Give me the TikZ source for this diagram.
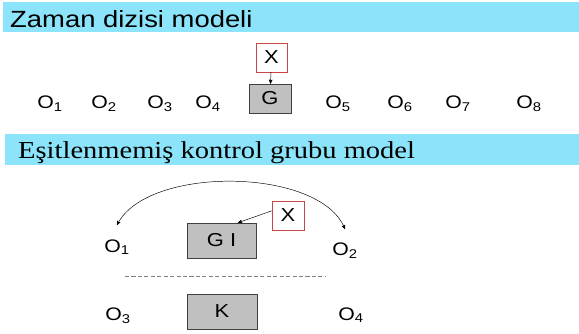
\documentclass[tikz,border=0pt]{standalone}
\usepackage{fontspec}
\setmainfont{Liberation Serif}[FakeStretch=1.17]
\setsansfont{Liberation Sans}[FakeStretch=1.17]
\usepackage{xcolor}
\usetikzlibrary{arrows}
\definecolor{bannercyan}{RGB}{140,228,250}
\definecolor{treatred}{RGB}{200,70,70}
\definecolor{groupgray}{RGB}{192,192,192}

\begin{document}
\begin{tikzpicture}[x=0.03cm, y=-0.03cm, >=stealth', thin,
    obs/.style={font=\sffamily\fontsize{15.5}{18}\selectfont, anchor=base, inner sep=2pt},
    treat/.style={draw=treatred, fill=white, font=\sffamily\fontsize{16}{19}\selectfont,
                  minimum width=0.93cm, minimum height=0.87cm, inner sep=0pt},
    group/.style={draw=black!75, fill=groupgray, font=\sffamily\fontsize{16}{19}\selectfont,
                  inner sep=0pt},
    heading/.style={anchor=base west, inner sep=0pt}]

  \useasboundingbox (0,0) rectangle (579,334);

  % zaman dizisi
  \fill[bannercyan] (3,2) rectangle (579,32);
  \node[heading, font=\sffamily\fontsize{20}{24}\selectfont] (title1) at (10,27) {Zaman dizisi modeli};

  \node[obs] (o1) at (50,108.5) {O\textsubscript{1}};
  \node[obs] (o2) at (104,108.5) {O\textsubscript{2}};
  \node[obs] (o3) at (160,108.5) {O\textsubscript{3}};
  \node[obs] (o4) at (208,108.5) {O\textsubscript{4}};
  \node[group, minimum width=1.26cm, minimum height=0.87cm] (g) at (270,98.5) {G};
  \node[obs] (o5) at (338,108.5) {O\textsubscript{5}};
  \node[obs] (o6) at (400,108.5) {O\textsubscript{6}};
  \node[obs] (o7) at (458,108.5) {O\textsubscript{7}};
  \node[obs] (o8) at (529,108.5) {O\textsubscript{8}};
  \node[treat] (x1) at (271.5,57.5) {X};

  \path[->] (x1) edge (g);

  % eşitlenmemiş kontrol grubu
  \fill[bannercyan] (5,134) rectangle (579,165);
  \node[heading, font=\rmfamily\fontsize{20.8}{24}\selectfont] (title2) at (18,158) {Eşitlenmemiş kontrol grubu model};

  \node[obs] (o1b) at (117,252) {O\textsubscript{1}};
  \node[obs] (o2b) at (345,255) {O\textsubscript{2}};
  \node[obs] (o3b) at (118,320) {O\textsubscript{3}};
  \node[obs] (o4b) at (351,320) {O\textsubscript{4}};
  \node[group, minimum width=2.07cm, minimum height=1.05cm] (gi) at (221.5,240.5) {G I};
  \node[group, minimum width=2.1cm, minimum height=1.05cm] (k) at (222,311.5) {K};
  \node[treat, minimum width=0.96cm] (x2) at (288,215.5) {X};

  \coordinate (dl) at (125,276);
  \coordinate (dr) at (325,276);
  \draw[black!50, dash pattern=on 3.5pt off 2pt] (dl) -- (dr);

  \path[->] ([yshift=4pt]x2.west) edge ([xshift=14pt]gi.north);
  \draw[<->] ([yshift=10pt]o1b.north) to[out=63, in=112, looseness=0.75] ([yshift=9pt]o2b.north);
\end{tikzpicture}
\end{document}
